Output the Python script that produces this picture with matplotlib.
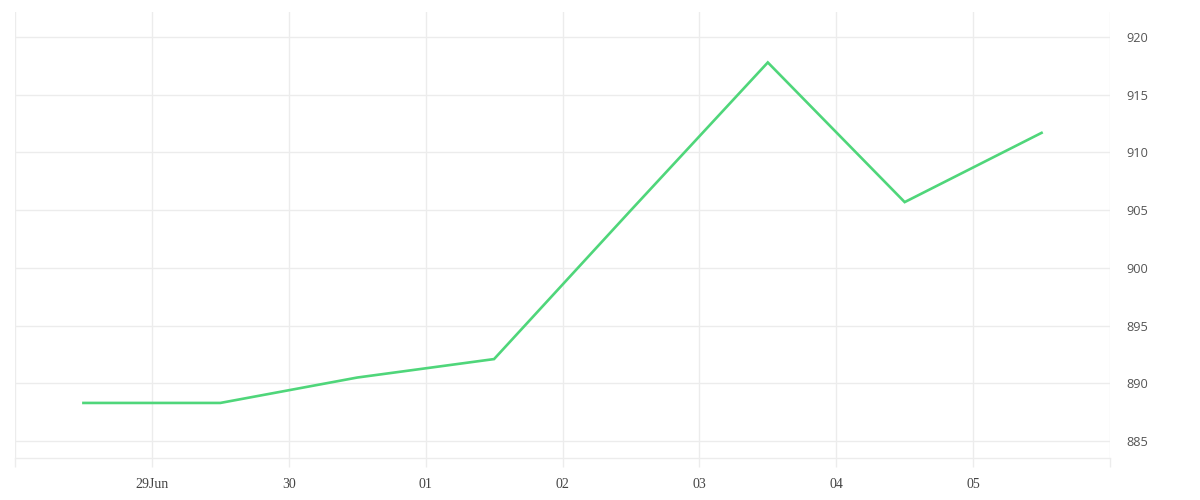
import pandas as pd
import numpy as np
import matplotlib.pyplot as plt
import matplotlib.dates as mdates
from matplotlib.ticker import FuncFormatter

plt.rcParams['font.family'] = ['Liberation Serif', 'DejaVu Serif']

# data (daily points at noon)
dates = pd.to_datetime(['2021-06-28 12:00', '2021-06-29 12:00', '2021-06-30 12:00',
                        '2021-07-01 12:00', '2021-07-02 12:00', '2021-07-03 12:00',
                        '2021-07-04 12:00', '2021-07-05 12:00'])
values = [888.3, 888.3, 890.5, 892.1, 905.0, 917.8, 905.7, 911.7]
y_ticks = [885, 890, 895, 900, 905, 910, 915, 920]
x_ticks = pd.date_range('2021-06-28', '2021-07-06', freq='D')

grid_col = '#ececec'

fig = plt.figure(figsize=(12, 5), dpi=100)
ax = fig.add_axes([15 / 1200, 42 / 500, 1095 / 1200, 446 / 500])

ax.plot(dates, values, color='#4fd67a', linewidth=1.9, solid_joinstyle='miter')

ax.set_xlim(x_ticks[0], x_ticks[-1])
ax.set_ylim(883.53, 922.17)

ax.set_xticks(x_ticks)
def fmt_day(x, pos):
    d = mdates.num2date(x)
    if pos == 0 or pos == len(x_ticks) - 1:
        return ''
    if pos == 1:
        return d.strftime('%d%b')
    return d.strftime('%d')
ax.xaxis.set_major_formatter(FuncFormatter(fmt_day))

ax.yaxis.tick_right()
ax.set_yticks(y_ticks)

ax.grid(True, color=grid_col, linewidth=1.0)
for s in ['top', 'left', 'right']:
    ax.spines[s].set_visible(False)
ax.spines['bottom'].set_color(grid_col)
ax.spines['bottom'].set_linewidth(1.0)

ax.tick_params(axis='x', length=6.5, width=1.0, color=grid_col, pad=8,
               labelsize=10, labelcolor='#444444')
ax.tick_params(axis='y', length=0, pad=12, labelsize=9.2, labelcolor='#555555')
for lab in ax.get_yticklabels():
    lab.set_fontfamily(['Open Sans', 'DejaVu Sans'])

plt.savefig('out.png', dpi=100)
plt.close()
